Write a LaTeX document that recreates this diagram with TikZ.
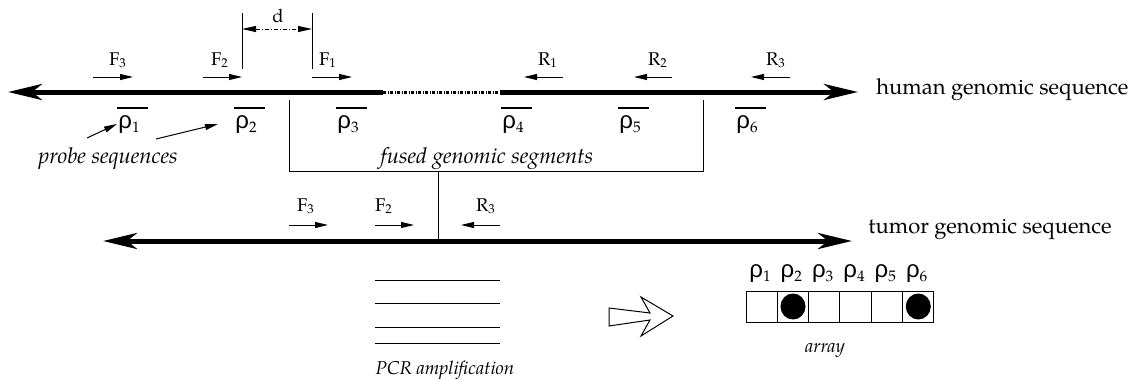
\documentclass[tikz,border=0pt]{standalone}
\usepackage{fontspec}
\setmainfont{texgyrepagella}[Extension=.otf,UprightFont=*-regular,ItalicFont=*-italic,BoldFont=*-bold,BoldItalicFont=*-bolditalic]
\newfontfamily\rhofont{Liberation Sans}
\usetikzlibrary{arrows.meta}
\newcommand{\rh}[1]{{\rhofont\fontsize{12}{14}\selectfont ρ}\raisebox{-2.2pt}{\fontsize{7.6}{9}\selectfont #1}}
\begin{document}
\begin{tikzpicture}[x=0.5pt,y=-0.5pt,
  big/.style={font=\fontsize{11}{13}\selectfont, inner sep=0pt},
  lab/.style={font=\fontsize{9.2}{11}\selectfont, inner sep=0pt},
  smit/.style={font=\fontsize{9.3}{11}\selectfont\itshape, inner sep=0pt},
  genome/.style={line width=2.5pt},
  bighead/.style={-{Stealth[length=17pt,width=8pt,inset=5pt]}},
  primer/.style={line width=0.5pt,-{Triangle[length=6.5pt,width=3pt]}},
  thin/.style={line width=0.5pt},
  over/.style={line width=0.6pt}]
\useasboundingbox (0,0) rectangle (1132,380);

% ---------- human genomic sequence ----------
\coordinate (hL) at (8,92);
\coordinate (hA) at (383,92);
\coordinate (hB) at (500,92);
\coordinate (hR) at (858,92);
\draw[genome,bighead] (hA) -- (hL);
\draw[line width=1.5pt,dash pattern=on 1.5pt off 0.75pt on 0.5pt off 0.75pt] (hA) -- (hB);
\draw[genome,bighead] (hB) -- (hR);
\node[big,anchor=base west] (human) at (876,94) {human genomic sequence};

% d dimension
\coordinate (d1t) at (242,13); \coordinate (d1b) at (242,69);
\coordinate (d2t) at (312,13); \coordinate (d2b) at (312,69);
\draw[thin] (d1t) -- (d1b);
\draw[thin] (d2t) -- (d2b);
\coordinate (da) at (242,29); \coordinate (db) at (312,29);
\draw[line width=0.5pt,dash pattern=on 2pt off 1pt on 0.5pt off 1pt,
  {Triangle[length=7pt,width=3pt]}-{Triangle[length=7pt,width=3pt]}] (da) -- (db);
\node[lab,anchor=base] (d) at (278,22) {d};

% primers (top)
\foreach \n/\a/\b in {F3/93/133,F2/203/242,F1/312/352}{
  \coordinate (\n s) at (\a,77); \coordinate (\n e) at (\b,77);
  \draw[primer] (\n s) -- (\n e);
}
\node[lab,anchor=base] (F3) at (118,65) {F\textsubscript{3}};
\node[lab,anchor=base] (F2) at (220,65) {F\textsubscript{2}};
\node[lab,anchor=base] (F1) at (328,65) {F\textsubscript{1}};
\foreach \n/\a/\b in {R1/563/524,R2/672/634,R3/790/751}{
  \coordinate (\n s) at (\a,77); \coordinate (\n e) at (\b,77);
  \draw[primer] (\n s) -- (\n e);
}
\node[lab,anchor=base] (R1) at (548,65) {R\textsubscript{1}};
\node[lab,anchor=base] (R2) at (658,65) {R\textsubscript{2}};
\node[lab,anchor=base] (R3) at (776,65) {R\textsubscript{3}};

% probes
\foreach \i/\x in {1/117,2/234,3/336,4/501,5/618,6/735}{
  \draw[over] (\x,108) -- ++(31,0);
  \node[lab,anchor=base west] (p\i) at (\x+1,128) {\rh{\i}};
}
\node[big,anchor=base,font=\fontsize{11}{13}\selectfont\itshape] (probe) at (108,163) {probe sequences};
\coordinate (pa1) at (87,138); \coordinate (pb1) at (117,124);
\coordinate (pa2) at (156,139); \coordinate (pb2) at (218,124);
\draw[primer] (pa1) -- (pb1);
\draw[primer] (pa2) -- (pb2);

% fused bracket
\coordinate (bl) at (289,100); \coordinate (blb) at (289,171);
\coordinate (br) at (703,100); \coordinate (brb) at (703,171);
\coordinate (stem) at (438,171);
\draw[thin] (bl) -- (blb) -- (brb) -- (br);
\node[big,anchor=base,font=\fontsize{11}{13}\selectfont\itshape] (fused) at (487,163) {fused genomic segments};

% ---------- tumor genomic sequence ----------
\coordinate (tL) at (103,241);
\coordinate (tM) at (438,241);
\coordinate (tR) at (852,241);
\draw[genome,bighead] (tM) -- (tL);
\draw[genome,bighead] (tM) -- (tR);
\draw[thin] (stem) -- (tM);
\node[big,anchor=base west] (tumor) at (868,233) {tumor genomic sequence};

\coordinate (bF3s) at (289,225); \coordinate (bF3e) at (328,225);
\coordinate (bF2s) at (375,225); \coordinate (bF2e) at (414,225);
\coordinate (bR3s) at (500,225); \coordinate (bR3e) at (461,225);
\draw[primer] (bF3s) -- (bF3e);
\draw[primer] (bF2s) -- (bF2e);
\draw[primer] (bR3s) -- (bR3e);
\node[lab,anchor=base] (bF3) at (306,211) {F\textsubscript{3}};
\node[lab,anchor=base] (bF2) at (384,211) {F\textsubscript{2}};
\node[lab,anchor=base] (bR3) at (486,211) {R\textsubscript{3}};

% PCR amplification
\foreach \y in {280,303,327,343}{
  \draw[thin] (375,\y) -- (500,\y);
}
\node[smit,anchor=base] (pcr) at (445,374) {PCR amplification};

% hollow arrow
\draw[line width=0.5pt,fill=white] (609,308) -- (650,313) -- (641,297) -- (673,316) -- (641,336) -- (650,320) -- (609,326) -- cycle;

% array
\foreach \i in {0,...,5}{
  \draw[thin] (746+31.33*\i,291) rectangle ++(31.33,31);
  \node[lab,anchor=base] (a\i) at (760+31.33*\i,277) {\rh{\the\numexpr\i+1\relax}};
}
\fill (793,306.5) ellipse [x radius=12.5, y radius=13];
\fill (918.3,306.5) ellipse [x radius=12.5, y radius=13];
\node[smit,anchor=base] (arr) at (825,352) {array};
\end{tikzpicture}
\end{document}
